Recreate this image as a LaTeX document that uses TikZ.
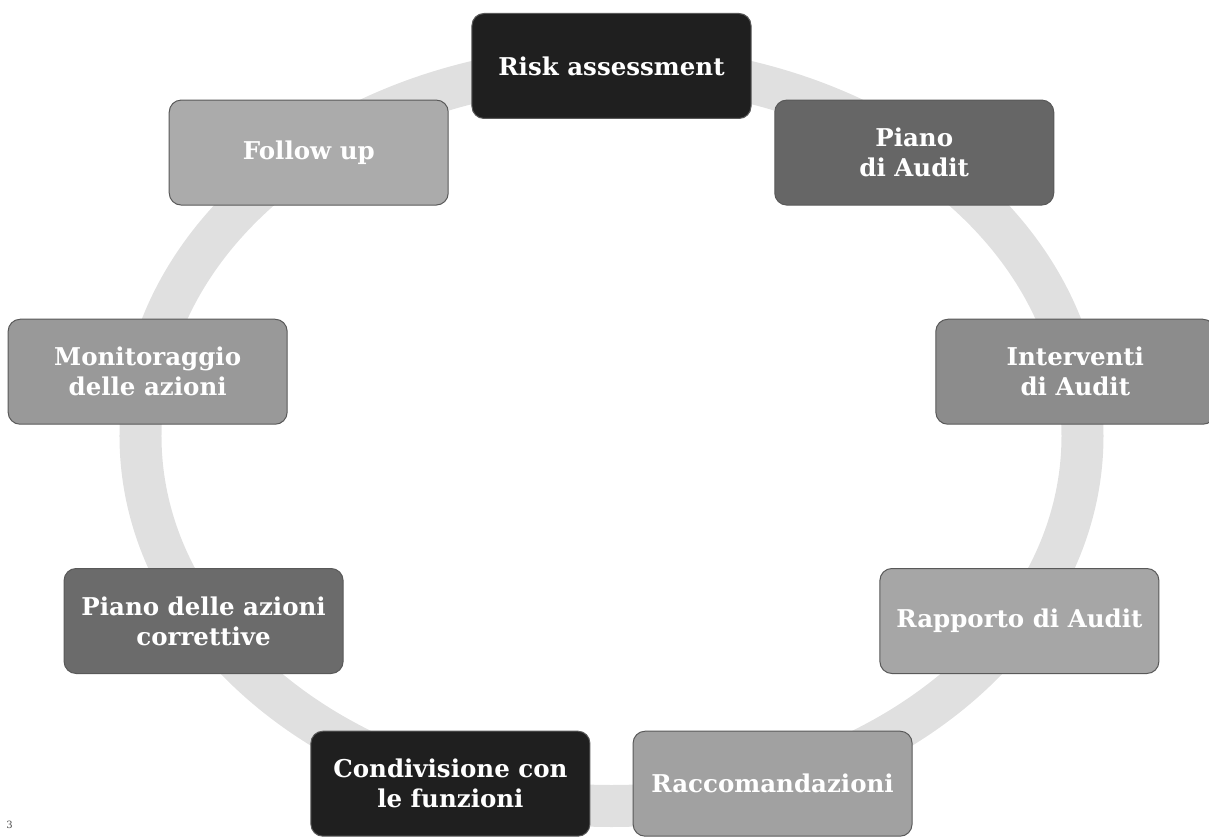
\documentclass[tikz,border=0pt]{standalone}
\usepackage{fontspec}
\setmainfont{DejaVu Serif}

\begin{document}
\begin{tikzpicture}[x=1pt, y=1pt, font=\bfseries\fontsize{24.5}{30}\selectfont, line join=round, line cap=round,
    box/.style={draw=black!65, line width=1pt, rounded corners=12pt, text=white, align=center,
        minimum width=279, minimum height=105, inner sep=3pt},
    ring/.style={black!12, line width=42}]
        \useasboundingbox (-611.5,-401) rectangle (597.5,436);
        \coordinate (O) at (0,0);
        \draw[ring] (O) ellipse (471 and 370);
        \node[box, fill=black!88] (R) at (90:471 and 370) {Risk assessment};
        \node[box, fill=black!60] (P) at (50:471 and 370) {Piano\\di Audit};
        \node[box, fill=black!45] (I) at (10:471 and 370) {Interventi\\di Audit};
        \node[box, fill=black!35] (RA) at (-30:471 and 370) {Rapporto di Audit};
        \node[box, fill=black!37] (RC) at (-70:471 and 370) {Raccomandazioni};
        \node[box, fill=black!88] (C) at (-110:471 and 370) {Condivisione con\\le funzioni};
        \node[box, fill=black!58] (PA) at (-150:471 and 370) {Piano delle azioni\\correttive};
        \node[box, fill=black!40] (M) at (170:471 and 370) {Monitoraggio\\delle azioni};
        \node[box, fill=black!33] (F) at (130:471 and 370) {Follow up};
        \node[font=\fontsize{10}{10}\selectfont, text=black!70] (pg) at (-602,-389) {3};
\end{tikzpicture}
\end{document}
